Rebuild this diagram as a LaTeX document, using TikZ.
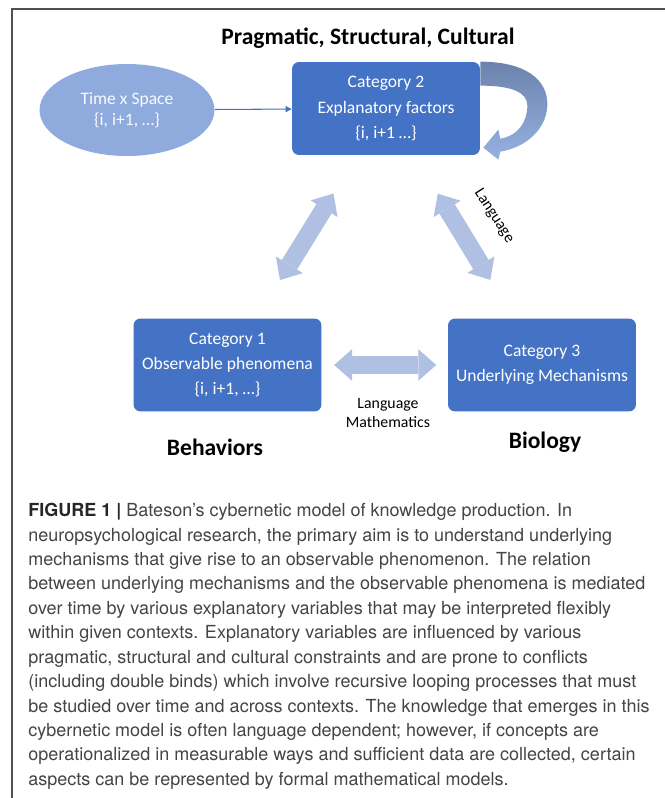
\documentclass[tikz,border=0pt]{standalone}
\usepackage{fontspec}
\setmainfont{Carlito}
\newfontfamily\capfont{TeX Gyre Heros}
\usepackage{tikz}
\usetikzlibrary{shapes.geometric,arrows.meta}
\usepackage{color}
\definecolor{boxblue}{RGB}{68,114,196}
\definecolor{blobblue}{RGB}{143,170,220}
\definecolor{arrowblue}{RGB}{176,192,227}
\definecolor{loopdark}{RGB}{108,130,172}
\definecolor{looplight}{RGB}{150,178,226}
\definecolor{framegray}{RGB}{80,80,80}
\definecolor{captext}{RGB}{68,68,68}
\newcommand{\selfloop}{\shade[top color=loopdark, bottom color=looplight]
        (0,0) .. controls (45,0) and (68,18) .. (67,44)
        .. controls (66,68) and (45,86) .. (20,90)
        -- (18,98) -- (3,86) -- (18,68) -- (20,77)
        .. controls (38,74) and (47,60) .. (47,44)
        .. controls (47,30) and (30,24) .. (0,24) -- cycle;}
\tikzset{
    catbox/.style={rectangle, rounded corners=4pt, fill=boxblue, text=white,
        minimum width=3.76cm, minimum height=1.86cm, align=center,
        font=\fontsize{10}{14.5}\selectfont},
    timeblob/.style={ellipse, fill=blobblue, text=white!95!blobblue,
        minimum width=3.5cm, minimum height=1.84cm, align=center, inner sep=0pt,
        font=\fontsize{10}{12}\selectfont},
    thinlink/.style={draw=boxblue, line width=0.6pt,
        -{Triangle[length=3.5pt,width=3.5pt]}},
    fatarrow/.style={draw=arrowblue, line width=10.2pt,
        {Triangle[length=10.2pt,width=18pt,line width=0pt]}-{Triangle[length=10.2pt,width=18pt,line width=0pt]}},
    heading/.style={font=\bfseries\fontsize{13.4}{16}\selectfont},
    linklabel/.style={font=\fontsize{9}{10.8}\selectfont, align=center}
}

\begin{document}
\begin{tikzpicture}[x=0.02cm, y=-0.02cm]
    \useasboundingbox (0,0) rectangle (665,798);

    % frame
    \draw[framegray, line width=0.85pt] (12,798) -- (12,9) -- (665,9);

    \node[heading] (title) at (368,38) {Pragmatic, Structural, Cultural};

    \node[timeblob] (ts) at (127,110) {Time x Space\\\{i, i+1, …\}};
    \node[catbox] (cat2) at (386,108.5) {Category 2\\Explanatory factors\\\{i, i+1 …\}};
    \node[catbox] (cat1) at (227.5,365) {Category 1\\Observable phenomena\\\{i, i+1, …\}};
    \node[catbox] (cat3) at (542,365) {Category 3\\Underlying Mechanisms};

    \draw[thinlink] (ts) -- (cat2);

    \begin{scope}[shift={(cat2.north east)}]
        \selfloop
    \end{scope}

    \draw[fatarrow, shorten <=25.5pt, shorten >=25.5pt] (cat2) -- (cat1);
    \draw[fatarrow, shorten <=25.5pt, shorten >=25.5pt] (cat2) -- (cat3);
    \draw[fatarrow, shorten <=7pt, shorten >=6.5pt] (cat1) -- (cat3);

    \node[linklabel, rotate=-57, inner sep=1pt] (lang) at (494,216) {Language};
    \node[linklabel] (langmath) at (388,413) {Language\\Mathematics};

    \node[heading] (behav) at (215,447) {Behaviors};
    \node[heading] (bio) at (545,442) {Biology};

    % caption
    \node[anchor=north west, inner sep=0pt, align=left, text=captext,
        font=\capfont\fontsize{10.25}{13.9}\selectfont] (caption) at (28,503)
        {{\bfseries\color{black!85}FIGURE 1 |} Bateson’s cybernetic model of knowledge production. In\\
        neuropsychological research, the primary aim is to understand underlying\\
        mechanisms that give rise to an observable phenomenon. The relation\\
        between underlying mechanisms and the observable phenomena is mediated\\
        over time by various explanatory variables that may be interpreted flexibly\\
        within given contexts. Explanatory variables are influenced by various\\
        pragmatic, structural and cultural constraints and are prone to conflicts\\
        (including double binds) which involve recursive looping processes that must\\
        be studied over time and across contexts. The knowledge that emerges in this\\
        cybernetic model is often language dependent; however, if concepts are\\
        operationalized in measurable ways and sufficient data are collected, certain\\
        aspects can be represented by formal mathematical models.};
\end{tikzpicture}
\end{document}
